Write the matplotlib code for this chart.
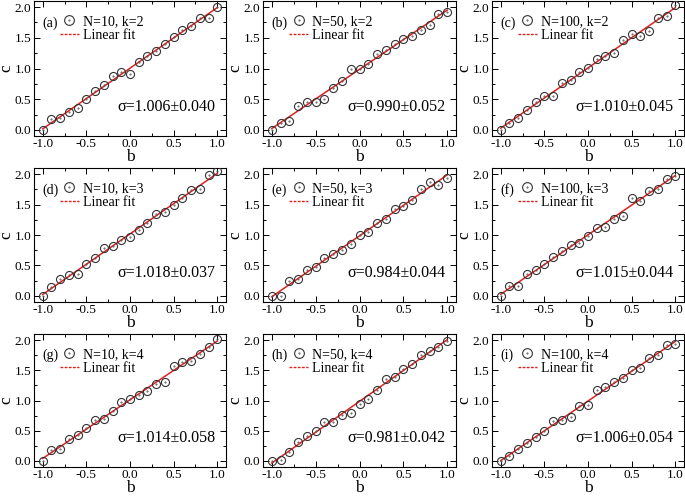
import numpy as np
import matplotlib
matplotlib.use("Agg")
import matplotlib.pyplot as plt
from matplotlib.lines import Line2D
from matplotlib.legend_handler import HandlerTuple
from matplotlib.ticker import MultipleLocator, FormatStrFormatter

plt.rcParams['font.family'] = ['Liberation Serif', 'DejaVu Serif']

b = [-1.0, -0.9, -0.8, -0.7, -0.6, -0.5, -0.4, -0.3, -0.2, -0.1, 0.0,
     0.1, 0.2, 0.3, 0.4, 0.5, 0.6, 0.7, 0.8, 0.9, 1.0]

c_a = [0.0, 0.18, 0.19, 0.29, 0.35, 0.51, 0.63, 0.73, 0.87, 0.95, 0.91,
       1.11, 1.20, 1.28, 1.40, 1.51, 1.63, 1.69, 1.83, 1.83, 2.01]
c_b = [0.0, 0.12, 0.14, 0.39, 0.46, 0.45, 0.51, 0.68, 0.80, 1.00, 0.99,
       1.08, 1.24, 1.30, 1.40, 1.48, 1.53, 1.63, 1.71, 1.89, 1.92]
c_c = [0.0, 0.11, 0.19, 0.32, 0.46, 0.56, 0.55, 0.76, 0.82, 0.94, 1.01,
       1.15, 1.20, 1.26, 1.47, 1.56, 1.53, 1.61, 1.82, 1.85, 2.03]
c_d = [0.0, 0.15, 0.27, 0.35, 0.36, 0.52, 0.62, 0.79, 0.82, 0.91, 0.96,
       1.08, 1.19, 1.34, 1.38, 1.50, 1.60, 1.74, 1.76, 1.98, 2.05]
c_e = [0.0, 0.0, 0.25, 0.27, 0.43, 0.47, 0.62, 0.68, 0.76, 0.86, 1.00,
       1.05, 1.19, 1.27, 1.43, 1.48, 1.57, 1.76, 1.87, 1.82, 1.93]
c_f = [0.0, 0.16, 0.17, 0.36, 0.42, 0.53, 0.64, 0.73, 0.84, 0.87, 0.98,
       1.11, 1.13, 1.26, 1.32, 1.60, 1.56, 1.72, 1.76, 1.92, 1.97]
c_g = [0.0, 0.18, 0.19, 0.36, 0.43, 0.54, 0.67, 0.69, 0.83, 0.97, 1.03,
       1.09, 1.16, 1.28, 1.30, 1.57, 1.64, 1.65, 1.77, 1.89, 2.02]
c_h = [0.0, 0.02, 0.14, 0.31, 0.41, 0.49, 0.65, 0.65, 0.76, 0.80, 0.95,
       1.03, 1.17, 1.35, 1.39, 1.52, 1.60, 1.76, 1.82, 1.89, 1.98]
c_i = [0.0, 0.09, 0.20, 0.30, 0.40, 0.50, 0.66, 0.67, 0.72, 0.91, 0.93,
       1.18, 1.23, 1.31, 1.37, 1.50, 1.54, 1.70, 1.75, 1.91, 1.94]

series = [c_a, c_b, c_c, c_d, c_e, c_f, c_g, c_h, c_i]
panel_tags = ['(a)', '(b)', '(c)', '(d)', '(e)', '(f)', '(g)', '(h)', '(i)']
series_labels = ['N=10, k=2', 'N=50, k=2', 'N=100, k=2',
                 'N=10, k=3', 'N=50, k=3', 'N=100, k=3',
                 'N=10, k=4', 'N=50, k=4', 'N=100, k=4']
sigma_texts = ['σ=1.006±0.040', 'σ=0.990±0.052', 'σ=1.010±0.045',
               'σ=1.018±0.037', 'σ=0.984±0.044', 'σ=1.015±0.044',
               'σ=1.014±0.058', 'σ=0.981±0.042', 'σ=1.006±0.054']

W, H = 685, 500
fig = plt.figure(figsize=(6.85, 5.0), dpi=100)

col_lr = [(34, 226), (263, 456), (492, 684)]
row_tb = [(1, 136), (168, 302), (334, 467)]

bx = np.array(b)
for idx in range(9):
    r, cc = divmod(idx, 3)
    l, rr = col_lr[cc]
    t, bt = row_tb[r]
    ax = fig.add_axes([l / W, 1 - bt / H, (rr - l) / W, (bt - t) / H])
    y = np.array(series[idx])
    p = np.polyfit(bx, y, 1)
    ax.plot(bx, np.polyval(p, bx), color='#e02020', lw=1.1, zorder=2)
    ax.plot(bx, y, 'o', ms=5.8, mfc='none', mec='#333333', mew=0.8, zorder=3)
    ax.plot(bx, y, '.', ms=1.0, color='#555555', zorder=3)
    ax.set_xlim(-1.1, 1.1)
    ax.set_ylim(-0.1, 2.1)
    ax.xaxis.set_major_locator(MultipleLocator(0.5))
    ax.xaxis.set_minor_locator(MultipleLocator(0.25))
    ax.yaxis.set_major_locator(MultipleLocator(0.5))
    ax.yaxis.set_minor_locator(MultipleLocator(0.25))
    ax.tick_params(which='both', direction='in', top=True, right=True,
                   labelsize=9.5, width=0.7, pad=2)
    ax.tick_params(axis='x', pad=1.5)
    ax.tick_params(which='major', length=4)
    ax.tick_params(which='minor', length=2)
    ax.xaxis.set_major_formatter(FormatStrFormatter('%.1f'))
    ax.yaxis.set_major_formatter(FormatStrFormatter('%.1f'))
    for s in ax.spines.values():
        s.set_linewidth(0.8)
    ax.set_xlabel('b', fontsize=12.5, labelpad=-1)
    ax.set_ylabel('c', fontsize=12.5, labelpad=0)

    circ = Line2D([], [], marker='o', ms=7, mfc='none', mec='#333333', mew=0.8, ls='none')
    dot = Line2D([], [], marker='.', ms=1.0, color='#555555', ls='none')
    fit = Line2D([], [], color='#e02020', lw=1.0, ls=(0, (2, 1)))
    ax.text(0.045, 0.837, panel_tags[idx], transform=ax.transAxes, fontsize=10,
            va='center', ha='left')
    ax.legend([(circ, dot), fit], [series_labels[idx], 'Linear fit'],
              handler_map={tuple: HandlerTuple(ndivide=1, pad=0)},
              loc='upper left', bbox_to_anchor=(0.134, 0.895), frameon=False,
              fontsize=10, handlelength=1.4, handletextpad=0.25,
              labelspacing=0.05, borderaxespad=0, borderpad=0)
    ax.text(0.945, 0.215, sigma_texts[idx], transform=ax.transAxes,
            fontsize=11.5, ha='right', va='center')

fig.savefig('out.png', dpi=100)
